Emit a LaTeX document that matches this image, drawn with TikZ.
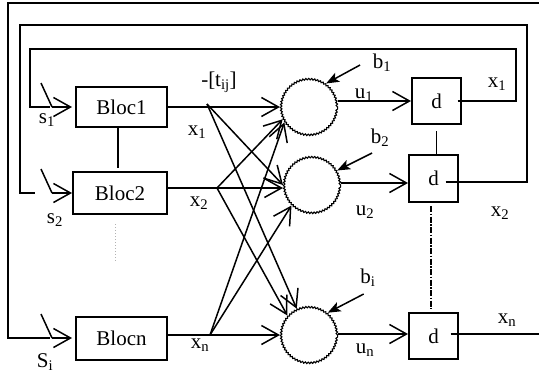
\documentclass[tikz,border=0pt]{standalone}
\usepackage{fontspec}
\setmainfont{Liberation Serif}
\usetikzlibrary{arrows.meta,decorations.pathmorphing}
\begin{document}
\begin{tikzpicture}[x=1pt,y=-1pt, line width=1.5pt,
  lbl/.style={font=\fontsize{21}{25}\selectfont, inner sep=0pt},
  blocbox/.style={draw, line width=2pt, font=\fontsize{21}{25}\selectfont, inner sep=0pt},
  neuron/.style={circle, inner sep=0pt, minimum size=57pt, draw, line width=1.1pt, decorate, decoration={bumps, segment length=6pt, amplitude=1.4pt}},
  arr/.style={-{Straight Barb[length=17pt,width=19pt]}},
  barr/.style={-{Stealth[length=13pt,width=10pt,inset=3pt]}},
  dashdotline/.style={line width=2.4pt, dash pattern=on 6pt off 1.5pt on 1.5pt off 1.5pt}]
\useasboundingbox (0,0) rectangle (539,375);

% blocks
\node[blocbox, minimum width=91pt, minimum height=40pt] (b1) at (121.5,107) {Bloc1};
\node[blocbox, minimum width=94pt, minimum height=42pt] (b2) at (120,193) {Bloc2};
\node[blocbox, minimum width=91pt, minimum height=43pt] (bn) at (121.5,338) {Blocn};

% neurons
\node[neuron] (c1) at (309,107) {};
\node[neuron] (c2) at (312,185) {};
\node[neuron] (cn) at (309,335) {};

% delay boxes
\node[blocbox, minimum width=49pt, minimum height=46pt] (d1) at (436.5,101) {d};
\node[blocbox, minimum width=49pt, minimum height=47pt] (d2) at (433.5,178.5) {d};
\node[blocbox, minimum width=49pt, minimum height=46pt] (dn) at (433.5,336) {d};

% links between blocks
\draw ([xshift=-3.5pt]b1.south) -- ++(0,40);
\draw[dotted, gray!60, line width=1pt] ([xshift=-5pt,yshift=-9pt]b2.south) -- ++(0,37);
\draw ([yshift=-6pt]d1.south) -- (d1.south |- d2.north);
\draw[dashdotline] ([xshift=-2.5pt,yshift=-3pt]d2.south) -- ([xshift=-2.5pt,yshift=3pt]dn.north);

% switches
\coordinate (s1) at (52,107);
\coordinate (s2) at (52,193);
\coordinate (sn) at (52,338);
\draw (s1) -- ++(-11,-24);
\draw (s2) -- ++(-11,-24);
\draw (sn) -- ++(-11,-24);
\draw[arr] (s1) -- ([xshift=-3pt]b1.west);
\draw[arr] (s2) -- (b2.west);
\draw[arr] (sn) -- ([xshift=-3pt]bn.west);

% feedback loops
\draw ([xshift=21pt]d1.center) -| (516,49) -| (30,107) -- ([xshift=-2pt]s1);
\draw ([xshift=12pt]d2.center |- 0,182) -| (527,25) -| (20,193) -- ([xshift=-17pt]s2);
\draw ([xshift=17pt]dn.center |- 0,334) -- (539,334);
\draw (539,3) -- (8,3) -- (8,338) -- ([xshift=-2pt]sn);

% direct inputs
\draw[arr] (b1.east) -- (c1.west);
\draw[arr] (b2.east |- 0,188) -- (c2.west |- 0,188);
\draw[arr] (bn.east |- cn) -- (cn.west);

% cross connections
\coordinate (f1) at (207,104);
\coordinate (f2) at (217,188);
\coordinate (fn) at (210,335);
\draw[arr] (f1) -- (c2.west);
\draw[arr] (f1) -- (cn.115);
\draw[arr] (f2) -- (c1.205);
\draw[arr] (f2) -- (cn.138);
\draw[arr] (fn) -- (c1.212);
\draw[arr] (fn) -- (c2.225);

% neuron to delay
\draw[arr] (c1.east |- d1.west) -- (d1.west);
\draw[arr] (c2.east |- 0,183) -- (d2.west |- 0,183);
\draw[arr] (cn.east |- 0,334) -- (dn.west |- 0,334);

% bias labels and arrows
\node[lbl] (lb1) at (382,63) {b\textsubscript{1}};
\node[lbl] (lb2) at (380,138) {b\textsubscript{2}};
\node[lbl] (lbi) at (368,278) {b\textsubscript{i}};
\draw[barr] ([shift={(-12,2)}]lb1.west) -- (c1.54);
\draw[barr] ([shift={(2,15)}]lb2.west) -- (c2.30);
\draw[barr] ([shift={(4,16)}]lbi.west) -- (cn.50);

% labels
\node[lbl] at (219,82) {-[t\textsubscript{ij}]};
\node[lbl] at (197,132) {x\textsubscript{1}};
\node[lbl] at (199,203) {x\textsubscript{2}};
\node[lbl] at (200,345) {x\textsubscript{n}};
\node[lbl] at (47,120) {s\textsubscript{1}};
\node[lbl] at (55,220) {s\textsubscript{2}};
\node[lbl] at (45,362) {S\textsubscript{i}};
\node[lbl] at (364,95) {u\textsubscript{1}};
\node[lbl] at (365,212) {u\textsubscript{2}};
\node[lbl] at (365,350) {u\textsubscript{n}};
\node[lbl] at (497,84) {x\textsubscript{1}};
\node[lbl] at (500,213) {x\textsubscript{2}};
\node[lbl] at (507,320) {x\textsubscript{n}};
\end{tikzpicture}
\end{document}
